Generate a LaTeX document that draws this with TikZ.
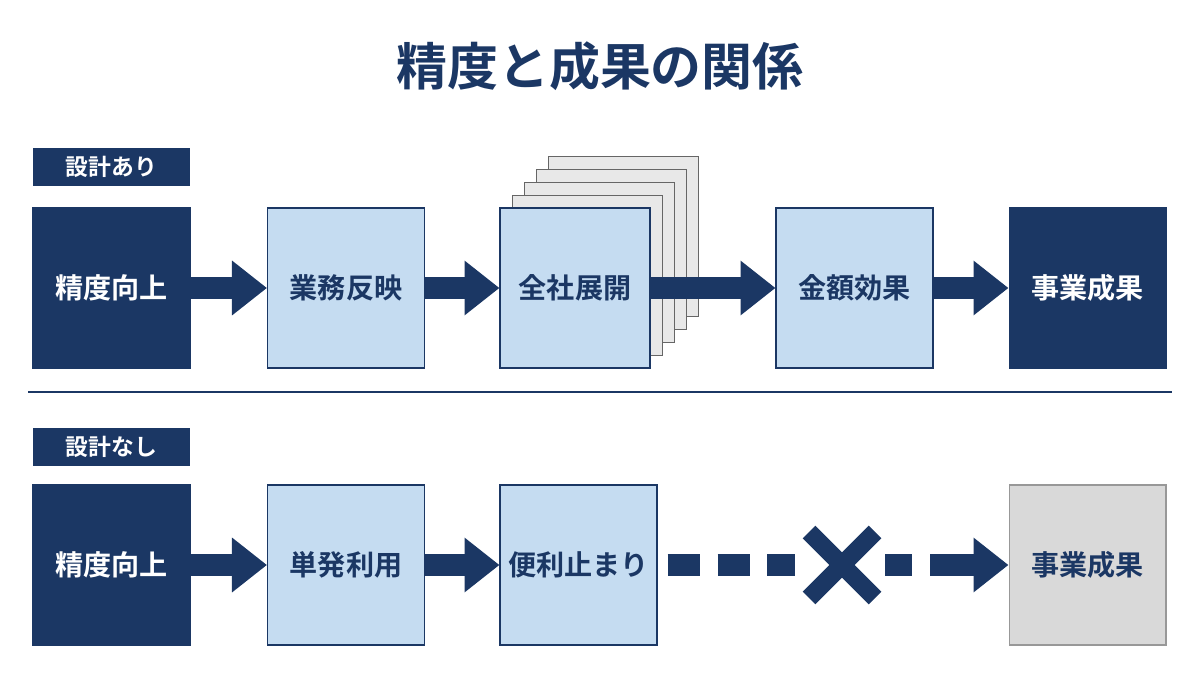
\documentclass[tikz,border=0pt]{standalone}
\usepackage{fontspec}
\setmainfont{Noto Sans CJK JP}[BoldFont={Noto Sans CJK JP Bold}]
\usetikzlibrary{arrows.meta,positioning,calc}
\definecolor{navy}{HTML}{1B3764}
\definecolor{pale}{HTML}{C5DCF1}
\definecolor{grey}{HTML}{D9D9D9}
\tikzset{
  box/.style={draw=navy,line width=0.6pt,minimum width=3.14cm,minimum height=3.2cm,
    inner sep=0,font=\bfseries\fontsize{16}{16}\selectfont},
  dark/.style={box,fill=navy,text=white},
  light/.style={box,fill=pale,text=navy},
  off/.style={box,fill=grey,draw=grey!70!black,text=navy},
  page/.style={draw=gray!80!black,fill=grey!60,line width=0.5pt},
  tag/.style={fill=navy,text=white,minimum width=3.14cm,minimum height=0.76cm,
    inner sep=0,font=\bfseries\fontsize{13}{13}\selectfont},
  flow/.style={navy,line width=0.44cm,-{Triangle[length=0.7cm,width=1.05cm]}},
  brk/.style={navy,line width=0.44cm}
}
\begin{document}
\begin{tikzpicture}[x=0.02cm,y=-0.02cm]
  \useasboundingbox (0,0) rectangle (1200,675);

  % title
  \node[text=navy,font=\bfseries\fontsize{29}{29}\selectfont] (title) at (600,66) {精度と成果の関係};

  % with design
  \node[tag] (tagA) at (111.5,167) {設計あり};
  \node[dark] (a1) at (111.5,288) {精度向上};
  \node[light] (a2) at (346,288) {業務反映};
  \foreach \k in {4,3,2,1} {
    \filldraw[page] (500+12*\k,208-13*\k) rectangle ++(150,160);
  }
  \node[light,minimum width=3cm] (a3) at (575,288) {全社展開};
  \node[light] (a4) at (854.5,288) {金額効果};
  \node[dark] (a5) at (1087.5,288) {事業成果};
  \draw[flow] (a1.east) -- (a2.west);
  \draw[flow] (a2.east) -- (a3.west);
  \draw[flow] (a3.east) -- (a4.west);
  \draw[flow] (a4.east) -- (a5.west);

  % divider
  \coordinate (l0) at (28,392);
  \coordinate (l1) at (1172,392);
  \draw[navy,line width=1pt] (l0) -- (l1);

  % without design
  \node[tag] (tagB) at (111.5,447) {設計なし};
  \node[dark] (b1) at (111.5,565) {精度向上};
  \node[light] (b2) at (346,565) {単発利用};
  \node[light] (b3) at (578.5,565) {便利止まり};
  \node[off] (b5) at (1087.5,565) {事業成果};
  \draw[flow] (b1.east) -- (b2.west);
  \draw[flow] (b2.east) -- (b3.west);

  % broken link
  \coordinate (x) at (842,565);
  \coordinate (xs) at (795,565);
  \coordinate (xe) at (885,565);
  \coordinate (xe2) at (912,565);
  \coordinate (xa) at (930,565);
  \draw[brk,dash pattern=on 0.64cm off 0.36cm] ([xshift=0.2cm]b3.east) -- (xs);
  \draw[brk] (xe) -- (xe2);
  \draw[flow] (xa) -- (b5.west);
  \draw[navy,line width=0.36cm] ($(x)+(-33,-33)$) -- ($(x)+(33,33)$);
  \draw[navy,line width=0.36cm] ($(x)+(-33,33)$) -- ($(x)+(33,-33)$);
\end{tikzpicture}
\end{document}
